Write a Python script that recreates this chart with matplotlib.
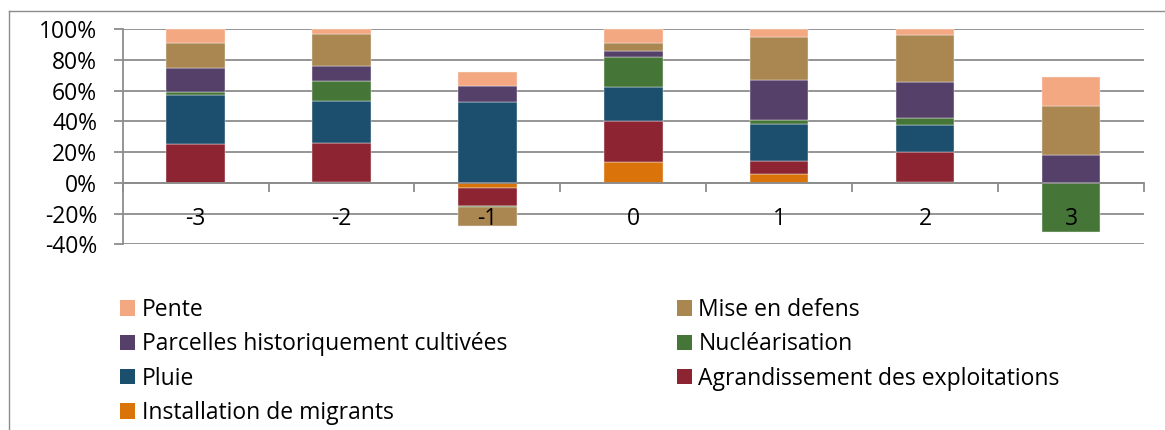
import matplotlib
matplotlib.use("Agg")
import matplotlib.pyplot as plt
from matplotlib.patches import Patch
from matplotlib.lines import Line2D
import numpy as np

plt.rcParams['font.family'] = ['Open Sans', 'DejaVu Sans']

# Categories on the x axis
categories = ["-3", "-2", "-1", "0", "1", "2", "3"]

# Share of each factor per category (percent), stacked bottom to top
installation = [0.0, 0.4, -3.3, 13.5, 5.9, 0.5, 0.0]
agrandissement = [25.4, 25.5, -11.7, 26.5, 8.4, 19.5, 0.0]
pluie = [31.8, 27.6, 52.6, 22.0, 24.0, 17.4, 0.0]
nuclearisation = [1.9, 13.0, -0.5, 20.0, 2.4, 4.6, -32.0]
parcelles = [15.7, 9.6, 10.4, 3.9, 26.3, 23.4, 18.0]
mise_en_defens = [16.1, 20.9, -12.8, 5.2, 28.0, 30.9, 32.0]
pente = [9.1, 3.0, 9.2, 8.9, 5.0, 3.7, 18.5]

series = [
    ("Installation de migrants", installation, "#D9730A"),
    ("Agrandissement des exploitations", agrandissement, "#8C2431"),
    ("Pluie", pluie, "#1B4F6D"),
    ("Nucléarisation", nuclearisation, "#467637"),
    ("Parcelles historiquement cultivées", parcelles, "#55406A"),
    ("Mise en defens", mise_en_defens, "#AA8750"),
    ("Pente", pente, "#F4A882"),
]

W, H = 1165, 430
fig = plt.figure(figsize=(W / 100, H / 100), dpi=100)
ax = fig.add_axes([122.7 / W, 1 - 244.3 / H, (1144 - 122.7) / W, (244.3 - 29) / H])

grid_color = "#8C8C8C"
x = np.arange(len(categories))
pos_base = np.zeros(len(categories))
neg_base = np.zeros(len(categories))
for name, vals, color in series:
    v = np.array(vals) / 100.0
    bottom = np.where(v >= 0, pos_base, neg_base)
    ax.bar(x, v, width=0.4, bottom=bottom, color=color, edgecolor="#F4F4F4",
           linewidth=0.3, zorder=3)
    pos_base = pos_base + np.where(v > 0, v, 0)
    neg_base = neg_base + np.where(v < 0, v, 0)

ax.set_xlim(-0.5, len(categories) - 0.5)
ax.set_ylim(-0.4, 1.0)
yt = np.arange(-0.4, 1.01, 0.2)
ax.set_yticks(yt)
ax.set_yticklabels([f"{round(t * 100)}%" for t in yt], fontsize=16.5)
ax.yaxis.grid(True, color=grid_color, linewidth=1.3, zorder=0)
ax.set_axisbelow(True)

for s in ("top", "right"):
    ax.spines[s].set_visible(False)
ax.spines["left"].set_color(grid_color)
ax.spines["left"].set_linewidth(1.3)
ax.spines["bottom"].set_position(("data", 0))
ax.spines["bottom"].set_color(grid_color)
ax.spines["bottom"].set_linewidth(1.3)
ax.spines["bottom"].set_zorder(4)

ax.set_xticks(np.arange(-0.5, len(categories), 1.0))
ax.set_xticklabels([])
ax.tick_params(axis="x", direction="out", length=6.5, width=1.3, color=grid_color)
ax.tick_params(axis="y", direction="out", length=6.5, width=1.3, color=grid_color,
               pad=12, labelcolor="black")

for xi, lab in zip(x, categories):
    ax.text(xi, -0.235, lab, ha="center", va="center", fontsize=16.5, zorder=6)

# Chart area border (left and top edges)
fig.add_artist(Line2D([9 / W, 9 / W], [0, 1 - 11 / H], transform=fig.transFigure,
                      color=grid_color, linewidth=1.0))
fig.add_artist(Line2D([9 / W, 1], [1 - 11 / H, 1 - 11 / H], transform=fig.transFigure,
                      color=grid_color, linewidth=1.0))

lookup = {name: color for name, _, color in series}
order = ["Pente", "Parcelles historiquement cultivées", "Pluie", "Installation de migrants",
         "Mise en defens", "Nucléarisation", "Agrandissement des exploitations"]
handles = [Patch(facecolor=lookup[n], edgecolor="none", label=n) for n in order]
fig.legend(handles=handles, loc="upper left", ncol=2,
           bbox_to_anchor=(120 / W, 1 - 298 / H), frameon=False,
           fontsize=16.5, handlelength=0.65, handleheight=0.65,
           handletextpad=0.29, columnspacing=7.42, labelspacing=0.45,
           borderpad=0, borderaxespad=0)

fig.savefig("out.png", dpi=100)
